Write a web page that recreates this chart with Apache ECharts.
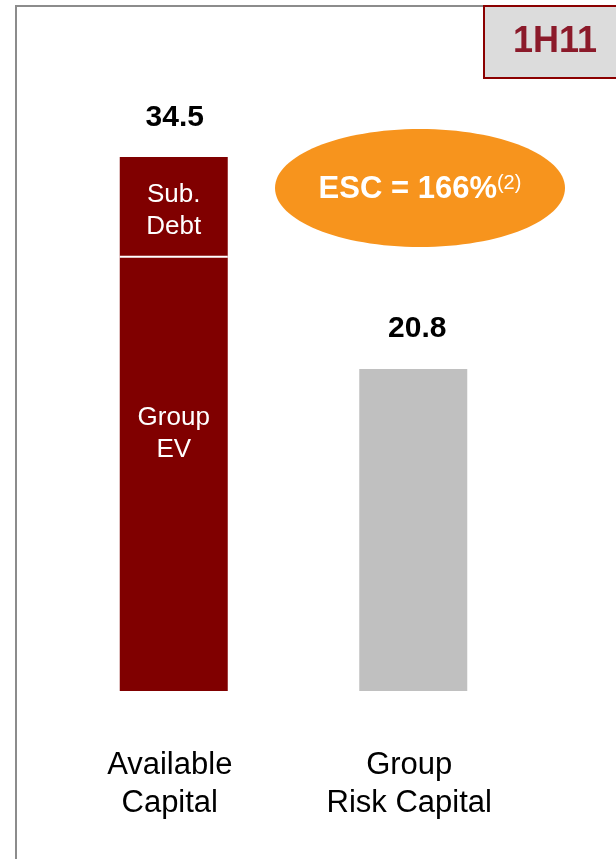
<!DOCTYPE html>
<html>
<head>
<meta charset="utf-8">
<script src="https://cdn.jsdelivr.net/npm/echarts@6/dist/echarts.min.js"></script>
<style>
  html, body { margin: 0; padding: 0; background: #fff; }
  #main { width: 616px; height: 859px; }
</style>
</head>
<body>
<div id="main"></div>
<script>
// chart data
var categories = ['Available\nCapital', 'Group\nRisk Capital'];
var groupEV = [28.0, '-'];
var subDebt = [6.5, '-'];
var riskCapital = ['-', 20.8];
var totals = [34.5, '-'];
var escText = 'ESC = 166%';

var font = '"Liberation Sans", Arial, sans-serif';
var myChart = echarts.init(document.getElementById('main'));

var option = {
  backgroundColor: '#fff',
  animation: false,
  grid: { left: 54, right: 83, top: 72, bottom: 168 },
  xAxis: {
    type: 'category',
    data: categories,
    axisLine: { show: false },
    axisTick: { show: false },
    axisLabel: {
      margin: 55,
      fontFamily: font,
      fontSize: 31,
      lineHeight: 38,
      color: '#000',
      padding: [0, 8, 0, 0]
    }
  },
  yAxis: {
    type: 'value',
    min: 0,
    max: 40,
    show: false
  },
  series: [
    {
      name: 'Group EV',
      type: 'bar',
      stack: 'a',
      barWidth: 108,
      barGap: '-100%',
      z: 3,
      data: groupEV,
      itemStyle: {
        color: '#800000',
        shadowColor: '#ffffff',
        shadowBlur: 0,
        shadowOffsetY: -2
      },
      label: {
        show: true,
        position: 'inside',
        offset: [0, -41],
        formatter: 'Group\nEV',
        color: '#fff',
        fontFamily: font,
        fontSize: 26,
        lineHeight: 32
      }
    },
    {
      name: 'Sub. Debt',
      type: 'bar',
      stack: 'a',
      barWidth: 108,
      barGap: '-100%',
      z: 2,
      data: subDebt,
      itemStyle: { color: '#800000' },
      label: {
        show: true,
        position: 'inside',
        offset: [0, 3],
        formatter: 'Sub.\nDebt',
        color: '#fff',
        fontFamily: font,
        fontSize: 26,
        lineHeight: 32
      }
    },
    {
      name: 'Group Risk Capital',
      type: 'bar',
      stack: 'a',
      barWidth: 108,
      barGap: '-100%',
      data: riskCapital,
      itemStyle: { color: '#c0c0c0' },
      label: {
        show: true,
        position: 'top',
        distance: 25,
        offset: [4, 0],
        color: '#000',
        fontFamily: font,
        fontSize: 30,
        fontWeight: 'bold',
        formatter: function (p) { return p.value.toFixed(1); }
      }
    },
    {
      name: 'Total',
      type: 'bar',
      barWidth: 108,
      barGap: '-100%',
      silent: true,
      data: totals,
      itemStyle: { color: 'rgba(0,0,0,0)' },
      label: {
        show: true,
        position: 'top',
        distance: 24,
        offset: [1, 0],
        color: '#000',
        fontFamily: font,
        fontSize: 30,
        fontWeight: 'bold',
        formatter: function (p) { return p.value.toFixed(1); }
      }
    }
  ],
  graphic: [
    {
      type: 'polyline',
      shape: { points: [[16, 859], [16, 6], [484, 6]] },
      style: { stroke: '#8c8c8c', lineWidth: 2, fill: null }
    },
    {
      type: 'rect',
      shape: { x: 484, y: 6, width: 142, height: 72 },
      style: { fill: '#dcdcdc', stroke: '#8b0000', lineWidth: 2 }
    },
    {
      type: 'text',
      style: {
        text: '1H11',
        x: 555, y: 42,
        align: 'center', verticalAlign: 'middle',
        fill: '#8b1a2a',
        font: 'bold 36px ' + font
      }
    },
    {
      type: 'ellipse',
      shape: { cx: 420, cy: 188, rx: 145, ry: 59 },
      style: { fill: '#f7941d' }
    },
    {
      type: 'text',
      style: {
        text: '{a|' + escText + '}{b|(2)}',
        x: 420, y: 189,
        align: 'center', verticalAlign: 'middle',
        rich: {
          a: { fontFamily: font, fontSize: 31, fontWeight: 'bold', fill: '#fff', color: '#fff', lineHeight: 31 },
          b: { fontFamily: font, fontSize: 20, fill: '#fff', color: '#fff', verticalAlign: 'top', lineHeight: 20 }
        }
      }
    }
  ]
};
myChart.setOption(option);
</script>
</body>
</html>
